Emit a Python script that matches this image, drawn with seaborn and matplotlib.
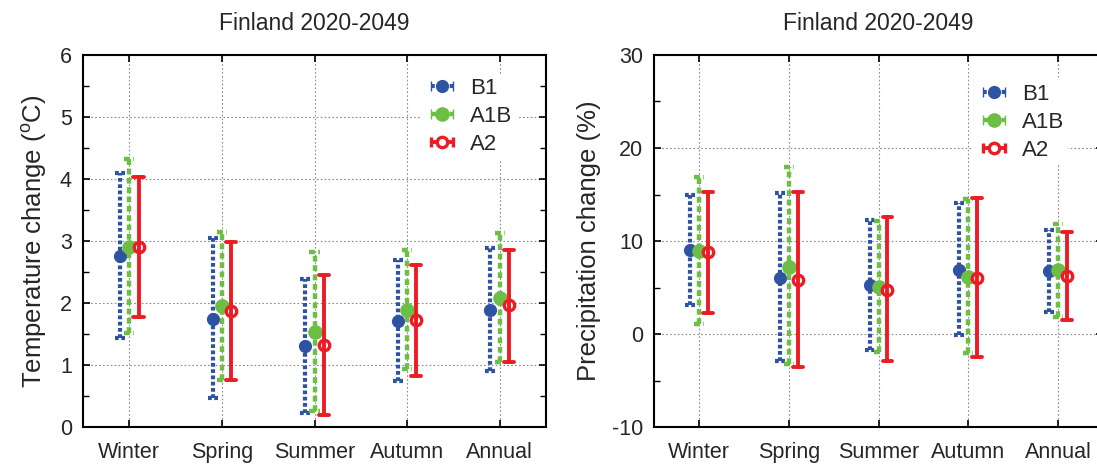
import numpy as np
import pandas as pd
import matplotlib
matplotlib.use("Agg")
import matplotlib.pyplot as plt
import seaborn as sns
from matplotlib.ticker import MultipleLocator

seasons = ["Winter", "Spring", "Summer", "Autumn", "Annual"]
scenarios = ["B1", "A1B", "A2"]

# Temperature change (deg C): mean, low, high
temp_B1_mean = [2.76, 1.75, 1.30, 1.71, 1.88]
temp_B1_low = [1.43, 0.47, 0.22, 0.74, 0.90]
temp_B1_high = [4.09, 3.05, 2.38, 2.69, 2.88]
temp_A1B_mean = [2.91, 1.95, 1.53, 1.89, 2.08]
temp_A1B_low = [1.52, 0.76, 0.26, 0.93, 1.05]
temp_A1B_high = [4.32, 3.15, 2.83, 2.85, 3.13]
temp_A2_mean = [2.91, 1.87, 1.32, 1.72, 1.96]
temp_A2_low = [1.78, 0.76, 0.19, 0.82, 1.05]
temp_A2_high = [4.04, 2.99, 2.45, 2.62, 2.86]

# Precipitation change (%): mean, low, high
prec_B1_mean = [9.01, 6.07, 5.25, 6.93, 6.79]
prec_B1_low = [3.17, -2.93, -1.75, -0.13, 2.38]
prec_B1_high = [14.93, 15.11, 12.24, 14.04, 11.17]
prec_A1B_mean = [8.94, 7.22, 5.07, 6.14, 6.86]
prec_A1B_low = [1.12, -3.26, -1.93, -2.00, 1.84]
prec_A1B_high = [16.91, 17.91, 12.17, 14.47, 11.88]
prec_A2_mean = [8.80, 5.86, 4.78, 6.07, 6.25]
prec_A2_low = [2.27, -3.54, -2.93, -2.47, 1.55]
prec_A2_high = [15.29, 15.29, 12.53, 14.57, 10.99]

title_text = "Finland 2020-2049"
temp_ylabel = "Temperature change ($^{\\mathrm{o}}$C)"
prec_ylabel = "Precipitation change (%)"

def long_frame(series):
    rows = []
    for scen, (mean, low, high) in series.items():
        for i, s in enumerate(seasons):
            for v in (low[i], mean[i], high[i]):
                rows.append({"season": s, "scenario": scen, "value": v})
    return pd.DataFrame(rows)

temp_df = long_frame({
    "B1": (temp_B1_mean, temp_B1_low, temp_B1_high),
    "A1B": (temp_A1B_mean, temp_A1B_low, temp_A1B_high),
    "A2": (temp_A2_mean, temp_A2_low, temp_A2_high),
})
prec_df = long_frame({
    "B1": (prec_B1_mean, prec_B1_low, prec_B1_high),
    "A1B": (prec_A1B_mean, prec_A1B_low, prec_A1B_high),
    "A2": (prec_A2_mean, prec_A2_low, prec_A2_high),
})

sns.set_theme(style="ticks")
plt.rcParams["font.family"] = ["Liberation Sans", "DejaVu Sans"]
plt.rcParams["mathtext.fontset"] = "custom"
plt.rcParams["mathtext.rm"] = "Liberation Sans"
plt.rcParams["axes.unicode_minus"] = False

colors = {"B1": "#2F53A3", "A1B": "#6DBE45", "A2": "#ED1C24"}
styles = {
    "B1": dict(ls=(0, (0.9, 0.6)), lw=3.0, ms=8.5, mfc="#2F53A3", mew=1.0),
    "A1B": dict(ls=(0, (1.3, 0.8)), lw=3.2, ms=9.5, mfc="#6DBE45", mew=1.0),
    "A2": dict(ls="-", lw=2.8, ms=7.5, mfc="white", mew=2.4),
}

fig = plt.figure(figsize=(10.97, 4.67), dpi=100)
ax1 = fig.add_axes([83 / 1097, 40 / 467, 463 / 1097, 372 / 467])
ax2 = fig.add_axes([654 / 1097, 40 / 467, 449 / 1097, 372 / 467])

def draw(ax, df, ylim, major, minor, ylabel, legend_anchor):
    for scen in scenarios:
        st = styles[scen]
        sns.pointplot(
            data=df[df["scenario"] == scen], x="season", y="value",
            hue="scenario", hue_order=scenarios, order=seasons,
            palette=colors, estimator="median",
            errorbar=lambda v: (v.min(), v.max()),
            dodge=0.2, markers="o", linestyles="none", capsize=0.11,
            err_kws={"linestyle": st["ls"], "linewidth": st["lw"]},
            legend=False, ax=ax,
            markersize=st["ms"], markerfacecolor=st["mfc"],
            markeredgewidth=st["mew"], zorder=5,
        )
    ax.set_xlim(-0.5, 4.5)
    ax.set_ylim(*ylim)
    ax.yaxis.set_major_locator(MultipleLocator(major))
    ax.yaxis.set_minor_locator(MultipleLocator(minor))
    ax.grid(True, which="major", color="#8a8a8a", linestyle=(0, (1.5, 2)), linewidth=0.8)
    ax.set_axisbelow(True)
    ax.tick_params(axis="both", which="both", direction="in", top=True, right=True,
                   labelsize=15.5, color="black")
    ax.tick_params(axis="y", which="major", length=5, width=1.2, pad=8)
    ax.tick_params(axis="y", which="minor", length=4, width=1.0)
    ax.tick_params(axis="x", which="major", length=5, width=1.2, pad=11)
    for sp in ax.spines.values():
        sp.set_visible(True)
        sp.set_linewidth(1.5)
        sp.set_color("black")
    ax.set_xlabel("")
    ax.set_ylabel(ylabel, fontsize=18.5, labelpad=8)
    ax.set_title(title_text, fontsize=16.5, pad=18)

    handles = []
    for scen in scenarios:
        st = styles[scen]
        h = ax.errorbar([np.nan], [np.nan], xerr=[[0.1], [0.1]], fmt="o",
                        color=colors[scen], ms=st["ms"], mfc=st["mfc"], mew=st["mew"],
                        elinewidth=st["lw"], capsize=3.5, capthick=st["lw"] * 0.8,
                        label=scen)
        h[2][0].set_linestyle(st["ls"])
        handles.append(h)
    leg = ax.legend(handles=handles, labels=scenarios, loc="upper left",
                    bbox_to_anchor=legend_anchor, frameon=True, fontsize=16,
                    handlelength=1.5, handletextpad=0.5, labelspacing=0.32,
                    borderpad=0.2, borderaxespad=0)
    leg.get_frame().set_facecolor("white")
    leg.get_frame().set_edgecolor("none")
    leg.get_frame().set_alpha(1.0)

draw(ax1, temp_df, (0, 6), 1, 0.5, temp_ylabel, (0.73, 0.95))
draw(ax2, prec_df, (-10, 30), 10, 5, prec_ylabel, (0.71, 0.935))

fig.savefig("out.png", dpi=100)
